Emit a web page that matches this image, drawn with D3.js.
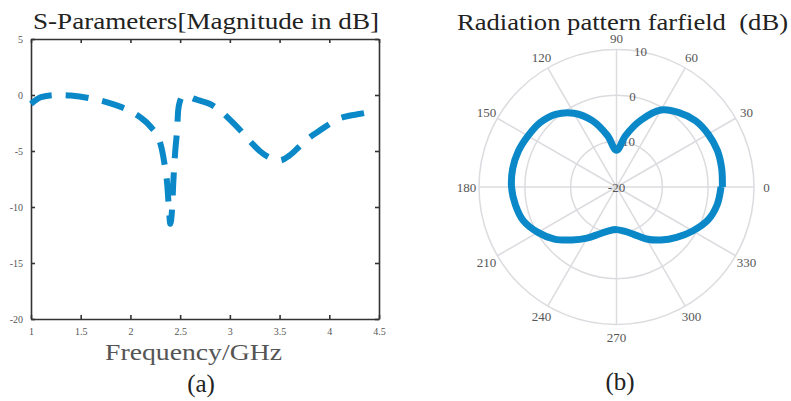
<!DOCTYPE html>
<html>
<head>
<meta charset="utf-8">
<script src="https://cdn.jsdelivr.net/npm/d3@7"></script>
<style>
  body { margin: 0; background: #fff; }
  text { font-family: "Liberation Serif", "Times New Roman", serif; }
</style>
</head>
<body>
<script>
// (a) S11 curve
const freqGHz = [1.0, 1.1, 1.25, 1.4, 1.6, 1.8, 2.0, 2.1, 2.2, 2.3, 2.34, 2.37, 2.39, 2.40, 2.42, 2.43, 2.45, 2.47, 2.48, 2.50, 2.53, 2.58, 2.63, 2.7, 2.8, 2.9, 3.0, 3.1, 3.2, 3.3, 3.4, 3.5, 3.6, 3.7, 3.8, 3.9, 4.0, 4.1, 4.2, 4.3, 4.36];
const s11dB = [-0.8, -0.2, 0.0, -0.05, -0.3, -0.75, -1.45, -2.0, -2.8, -4.3, -6.0, -8.0, -10.5, -11.5, -10.0, -8.0, -5.1, -3.0, -1.4, -0.5, -0.1, -0.1, -0.3, -0.5, -0.8, -1.4, -2.2, -3.1, -4.1, -5.0, -5.6, -5.85, -5.4, -4.6, -3.8, -3.2, -2.6, -2.1, -1.85, -1.7, -1.6];
const xTicks = [1, 1.5, 2, 2.5, 3, 3.5, 4, 4.5];
const yTicks = [5, 0, -5, -10, -15, -20];

// (b) far-field pattern
const angleDeg = [0, 10, 20, 30, 40, 50, 60, 70, 80, 90, 100, 110, 120, 130, 140, 150, 160, 170, 180, 190, 200, 210, 220, 230, 240, 250, 260, 270, 280, 290, 300, 310, 320, 330, 340, 350, 360];
const gainDB = [3.1, 3.3, 3.4, 3.1, 2.5, 1.2, -0.6, -4.5, -8.6, -12.0, -8.6, -4.6, -1.4, 0.7, 1.8, 2.3, 2.8, 3.0, 2.9, 2.4, 1.6, -0.2, -2.3, -4.9, -7.1, -9.1, -10.3, -10.7, -10.2, -9.0, -6.9, -4.9, -2.9, -0.8, 1.2, 2.3, 2.8];
const angleTicks = [0, 30, 60, 90, 120, 150, 180, 210, 240, 270, 300, 330];
const radialTicks = [-20, -10, 0, 10];

const W = 791, H = 401;
const blue = '#0a88c8';

const svg = d3.select('body').append('svg')
  .attr('width', W).attr('height', H);

// ---------- left panel ----------
const plotL = 31, plotR = 379, plotT = 39, plotB = 319;
const x = d3.scaleLinear().domain([1, 4.5]).range([plotL, plotR]);
const y = d3.scaleLinear().domain([-20, 5]).range([plotB, plotT]);

const gA = svg.append('g');

function styleAxis(g) {
  g.selectAll('.domain').attr('stroke', '#333').attr('stroke-width', 1.6);
  g.selectAll('.tick line').attr('stroke', '#333').attr('stroke-width', 1.6);
  g.selectAll('.tick text')
    .attr('fill', '#555')
    .style('font-family', '"Liberation Serif", serif')
    .style('font-size', '10px');
}

gA.append('g')
  .attr('transform', `translate(0,${plotB})`)
  .call(d3.axisBottom(x).tickValues(xTicks).tickFormat(d => String(d))
    .tickSizeInner(-4).tickSizeOuter(0).tickPadding(9))
  .call(styleAxis);
gA.append('g')
  .attr('transform', `translate(0,${plotT})`)
  .call(d3.axisTop(x).tickValues(xTicks).tickSizeInner(-4).tickSizeOuter(0).tickFormat(''))
  .call(styleAxis);
gA.append('g')
  .attr('transform', `translate(${plotL},0)`)
  .call(d3.axisLeft(y).tickValues(yTicks).tickFormat(d => String(d))
    .tickSizeInner(-4).tickSizeOuter(0).tickPadding(8))
  .call(styleAxis);
gA.append('g')
  .attr('transform', `translate(${plotR},0)`)
  .call(d3.axisRight(y).tickValues(yTicks).tickSizeInner(-4).tickSizeOuter(0).tickFormat(''))
  .call(styleAxis);

const s11Line = d3.line()
  .x((d, i) => x(freqGHz[i]))
  .y(d => y(d))
  .curve(d3.curveMonotoneX);

gA.append('path')
  .datum(s11dB)
  .attr('d', s11Line)
  .attr('fill', 'none')
  .attr('stroke', blue)
  .attr('stroke-width', 6)
  .attr('stroke-dasharray', '23,14');

gA.append('text')
  .attr('x', 33).attr('y', 29)
  .attr('fill', '#222')
  .attr('textLength', 346)
  .attr('lengthAdjust', 'spacingAndGlyphs')
  .style('font-size', '24px')
  .text('S-Parameters[Magnitude in dB]');

gA.append('text')
  .attr('x', 105).attr('y', 360)
  .attr('fill', '#555')
  .attr('textLength', 177)
  .attr('lengthAdjust', 'spacingAndGlyphs')
  .style('font-size', '24px')
  .text('Frequency/GHz');

gA.append('text')
  .attr('x', 201).attr('y', 392)
  .attr('text-anchor', 'middle')
  .attr('fill', '#222')
  .style('font-size', '25px')
  .text('(a)');

// ---------- right panel (polar) ----------
const cx = 616.5, cy = 187;
const r = d3.scaleLinear().domain([-20, 10]).range([0, 137.5]);
const rad = a => a * Math.PI / 180;

const gB = svg.append('g').attr('transform', `translate(${cx},${cy})`);
const gridColor = '#dcdce0';

gB.selectAll('circle.grid')
  .data(radialTicks.slice(1))
  .join('circle')
  .attr('class', 'grid')
  .attr('r', d => r(d))
  .attr('fill', 'none')
  .attr('stroke', gridColor)
  .attr('stroke-width', 1.5);

gB.selectAll('line.spoke')
  .data(angleTicks)
  .join('line')
  .attr('class', 'spoke')
  .attr('x1', 0).attr('y1', 0)
  .attr('x2', d => r(10) * Math.cos(rad(d)))
  .attr('y2', d => -r(10) * Math.sin(rad(d)))
  .attr('stroke', gridColor)
  .attr('stroke-width', 1.5);

gB.selectAll('text.ang')
  .data(angleTicks)
  .join('text')
  .attr('class', 'ang')
  .attr('x', d => 150 * Math.cos(rad(d)))
  .attr('y', d => -150 * Math.sin(rad(d)) + (d === 90 ? 1 : 0))
  .attr('text-anchor', 'middle')
  .attr('dominant-baseline', 'central')
  .attr('fill', '#555')
  .style('font-size', '13px')
  .text(d => d);

gB.selectAll('text.rlab')
  .data(radialTicks)
  .join('text')
  .attr('class', 'rlab')
  .attr('x', d => r(d) * Math.cos(rad(80)) + (d === -10 ? 2 : 0))
  .attr('y', d => -r(d) * Math.sin(rad(80)))
  .attr('text-anchor', 'middle')
  .attr('dominant-baseline', 'central')
  .attr('fill', '#555')
  .style('font-size', '13px')
  .text(d => d);

const pattern = d3.lineRadial()
  .angle((d, i) => Math.PI / 2 - rad(angleDeg[i]))
  .radius(d => r(d))
  .curve(d3.curveCatmullRom);

gB.append('path')
  .datum(gainDB)
  .attr('d', pattern)
  .attr('fill', 'none')
  .attr('stroke', blue)
  .attr('stroke-width', 7)
  .attr('stroke-linejoin', 'round');

svg.append('text')
  .attr('x', 457).attr('y', 30)
  .attr('fill', '#222')
  .attr('textLength', 331)
  .attr('lengthAdjust', 'spacingAndGlyphs')
  .style('font-size', '24px')
  .style('white-space', 'pre')
  .text('Radiation pattern farfield  (dB)');

svg.append('text')
  .attr('x', 620).attr('y', 390)
  .attr('text-anchor', 'middle')
  .attr('fill', '#222')
  .style('font-size', '25px')
  .text('(b)');
</script>
</body>
</html>
